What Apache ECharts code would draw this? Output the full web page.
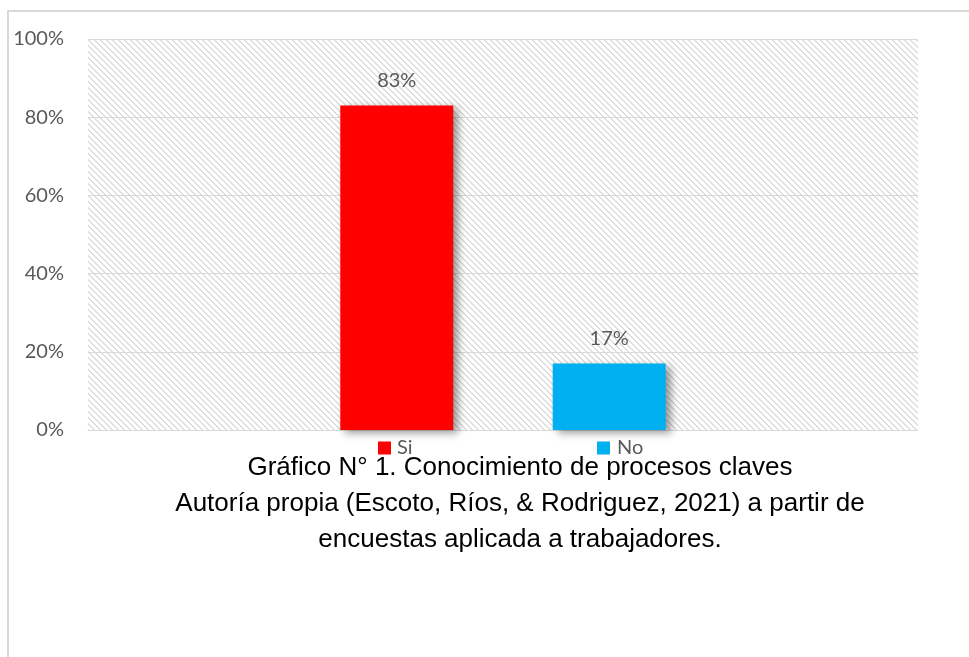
<!DOCTYPE html>
<html>
<head>
<meta charset="utf-8">
<style>
html,body{margin:0;padding:0;background:#fff;}
#chart{width:969px;height:657px;}
</style>
<script src="https://cdn.jsdelivr.net/npm/echarts@6/dist/echarts.min.js"></script>
</head>
<body>
<div id="chart"></div>
<script>
// ---- data ----
var seriesNames = ['Si', 'No'];
var seriesValues = [83, 17];
var seriesColors = ['#FF0000', '#00B0F0'];
var categories = [''];
var yMin = 0, yMax = 100, yStep = 20;
var captionLines = [
  'Gráfico N° 1. Conocimiento de procesos claves',
  'Autoría propia (Escoto, Ríos, & Rodriguez, 2021) a partir de',
  'encuestas aplicada a trabajadores.'
];

// hatch pattern (downward diagonal)
var N = 6;
var cv = document.createElement('canvas');
cv.width = N; cv.height = N;
var ctx = cv.getContext('2d');
ctx.fillStyle = '#ffffff';
ctx.fillRect(0, 0, N, N);
ctx.fillStyle = '#dedede';
for (var y = 0; y < N; y++) {
  for (var x = 0; x < N; x++) {
    var d = ((x - y) % N + N) % N;
    if (d === 0 || d === 1) ctx.fillRect(x, y, 1, 1);
  }
}

var chart = echarts.init(document.getElementById('chart'), null, {renderer: 'canvas'});
var labelFont = 'Lato';
var series = seriesNames.map(function (name, i) {
  return {
    name: name,
    type: 'bar',
    data: [seriesValues[i]],
    barWidth: 113,
    barGap: '88%',
    itemStyle: {
      color: seriesColors[i],
      shadowColor: 'rgba(0,0,0,0.4)',
      shadowBlur: 8,
      shadowOffsetX: 5,
      shadowOffsetY: 3
    },
    label: {
      show: true,
      position: 'top',
      distance: 15,
      formatter: '{c}%',
      color: '#595959',
      fontFamily: labelFont,
      fontSize: 20
    }
  };
});

chart.setOption({
  animation: false,
  backgroundColor: '#ffffff',
  grid: {
    left: 88, right: 51, top: 39, bottom: 227,
    show: true,
    borderWidth: 0,
    backgroundColor: {image: cv, repeat: 'repeat'}
  },
  xAxis: {
    type: 'category',
    data: categories,
    axisLine: {show: true, lineStyle: {color: '#d9d9d9', width: 1}},
    axisTick: {show: false},
    axisLabel: {show: false},
    splitLine: {show: false}
  },
  yAxis: {
    type: 'value',
    min: yMin, max: yMax, interval: yStep,
    axisLine: {show: false},
    axisTick: {show: false},
    axisLabel: {
      formatter: '{value}%',
      color: '#595959',
      fontFamily: labelFont,
      fontSize: 20,
      margin: 24
    },
    splitLine: {show: true, lineStyle: {color: '#d9d9d9', width: 1}}
  },
  legend: [
    {
      data: [seriesNames[0]], left: 373, top: 433,
      icon: 'rect', itemWidth: 13, itemHeight: 13,
      textStyle: {color: '#595959', fontFamily: labelFont, fontSize: 20, padding: [0,0,0,1]}
    },
    {
      data: [seriesNames[1]], left: 592, top: 433,
      icon: 'rect', itemWidth: 13, itemHeight: 13,
      textStyle: {color: '#595959', fontFamily: labelFont, fontSize: 20, padding: [0,0,0,2]}
    }
  ],
  graphic: [
    {
      type: 'rect', silent: true, z: 100,
      shape: {x: 8, y: 11, width: 1200, height: 1000},
      style: {fill: 'none', stroke: '#d9d9d9', lineWidth: 2}
    },
    {
      type: 'text', silent: true, z: 100,
      x: 520, y: 450,
      style: {
        text: captionLines.join('\n'),
        font: '26px "Liberation Sans", Arial, sans-serif',
        fill: '#000000',
        align: 'center',
        verticalAlign: 'top',
        lineHeight: 36
      }
    }
  ],
  series: series
});
</script>
</body>
</html>
